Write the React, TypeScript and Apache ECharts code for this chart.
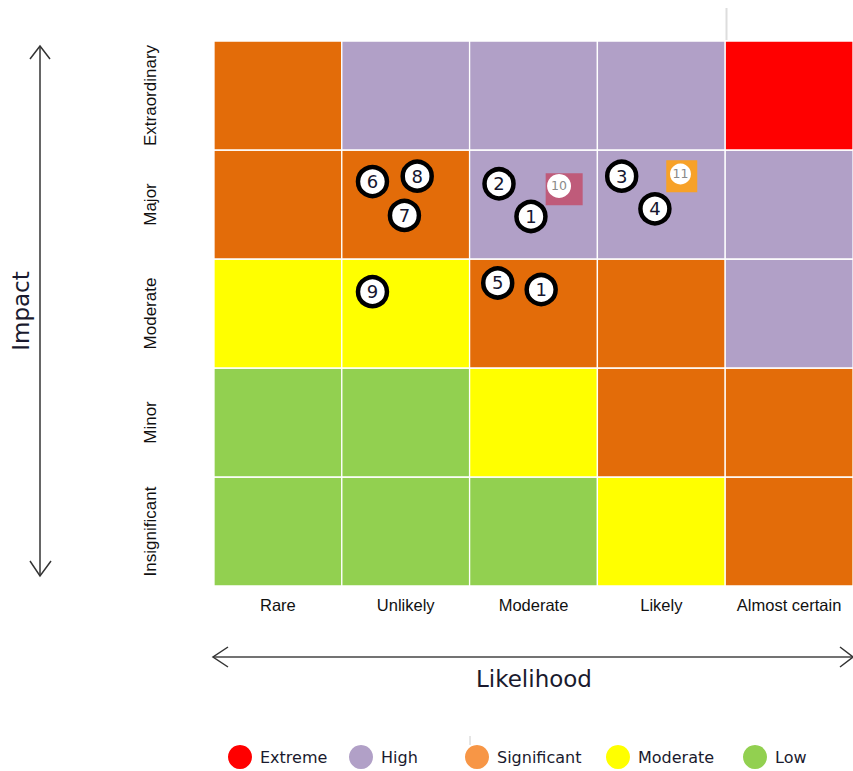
import React, { useEffect, useRef } from 'react';
import * as echarts from 'echarts';

const likelihoodLabels = ['Rare', 'Unlikely', 'Moderate', 'Likely', 'Almost certain'];
const impactLabels = ['Insignificant', 'Minor', 'Moderate', 'Major', 'Extraordinary'];
const ratingNames = ['Extreme', 'High', 'Significant', 'Moderate', 'Low'];
// rows from bottom (Insignificant) to top (Extraordinary); columns Rare..Almost certain
const ratingRows = [
  ['Low', 'Low', 'Low', 'Moderate', 'Significant'],
  ['Low', 'Low', 'Moderate', 'Significant', 'Significant'],
  ['Moderate', 'Moderate', 'Significant', 'Significant', 'High'],
  ['Significant', 'Significant', 'High', 'High', 'High'],
  ['Significant', 'High', 'High', 'High', 'Extreme'],
];
const riskIds = ['6', '8', '7', '2', '1', '3', '4', '9', '5', '1'];
const riskLikelihood = [1.24, 1.59, 1.49, 2.23, 2.48, 3.19, 3.45, 1.24, 2.22, 2.56];
const riskImpact = [3.71, 3.76, 3.4, 3.69, 3.39, 3.76, 3.46, 2.7, 2.78, 2.72];
const flaggedIds = ['10', '11'];
const flaggedLikelihood = [2.74, 3.66];
const flaggedImpact = [3.64, 3.76];
const flaggedDotLikelihood = [2.7, 3.65];
const flaggedDotImpact = [3.67, 3.78];

const cellColors: Record<string, string> = {
  Extreme: '#FF0000',
  High: '#B1A0C7',
  Significant: '#E36C09',
  Moderate: '#FFFF00',
  Low: '#92D050',
};
const legendColors: Record<string, string> = {
  Extreme: '#FF0000',
  High: '#B1A0C7',
  Significant: '#F79646',
  Moderate: '#FFFF00',
  Low: '#92D050',
};
const flaggedColors = ['#BF5B7A', '#F7A128'];
const flaggedSizes = [[37, 32], [31, 32]];
const flaggedDotSizes = [24, 21];
const legendLefts = [228, 349, 465, 606, 743];

const labelFont = "'Liberation Sans', Arial, sans-serif";
const mainFont = "'DejaVu Sans', sans-serif";

export default function App() {
  const ref = useRef<HTMLDivElement>(null);
  useEffect(() => {
    if (!ref.current) return;
    const chart = echarts.init(ref.current, undefined, { renderer: 'svg' });

    const cellData: number[][] = [];
    ratingRows.forEach((row, r) => row.forEach((_, c) => cellData.push([c, r])));

    const option: any = {
      animation: false,
      backgroundColor: '#fff',
      grid: { left: 214, top: 41, width: 640, height: 545, containLabel: false },
      xAxis: [
        { type: 'value', min: 0, max: 5, show: false },
        {
          type: 'category',
          data: likelihoodLabels,
          position: 'bottom',
          axisLine: { show: false },
          axisTick: { show: false },
          splitLine: { show: false },
          axisLabel: { interval: 0, margin: 10, fontSize: 16.5, fontFamily: labelFont, color: '#111' },
        },
      ],
      yAxis: [
        { type: 'value', min: 0, max: 5, show: false },
        {
          type: 'category',
          data: impactLabels,
          position: 'left',
          axisLine: { show: false },
          axisTick: { show: false },
          splitLine: { show: false },
          axisLabel: { interval: 0, rotate: 90, margin: 55, fontSize: 17, fontFamily: labelFont, color: '#111' },
        },
      ],
      legend: ratingNames.map((name, i) => ({
        data: [name],
        left: legendLefts[i],
        top: 745,
        padding: 0,
        icon: 'circle',
        itemWidth: 24,
        itemHeight: 25,
        itemGap: 0,
        itemStyle: { opacity: 1 },
        textStyle: { fontFamily: mainFont, fontSize: 16, color: '#1a1a2e', padding: [0, 0, 0, 3] },
        selectedMode: false,
      })),
      series: [
        {
          type: 'custom',
          name: 'cells',
          xAxisIndex: 0,
          yAxisIndex: 0,
          data: cellData,
          encode: { x: 0, y: 1 },
          z: 1,
          renderItem: (_params: any, api: any) => {
            const c = api.value(0);
            const r = api.value(1);
            const p0 = api.coord([c, r + 1]);
            const p1 = api.coord([c + 1, r]);
            return {
              type: 'rect',
              shape: { x: p0[0], y: p0[1], width: p1[0] - p0[0], height: p1[1] - p0[1] },
              style: { fill: cellColors[ratingRows[r][c]], stroke: '#ffffff', lineWidth: 1.3 },
            };
          },
        },
        ...ratingNames.map((name) => ({
          type: 'scatter',
          name,
          data: [],
          xAxisIndex: 0,
          yAxisIndex: 0,
          itemStyle: { color: legendColors[name], opacity: 1 },
        })),
        {
          type: 'scatter',
          name: 'flagged',
          xAxisIndex: 0,
          yAxisIndex: 0,
          z: 3,
          symbol: 'rect',
          data: flaggedIds.map((id, i) => ({
            value: [flaggedLikelihood[i], flaggedImpact[i], id],
            symbolSize: flaggedSizes[i],
            itemStyle: { color: flaggedColors[i], opacity: 1 },
          })),
        },
        {
          type: 'scatter',
          name: 'flaggedDots',
          xAxisIndex: 0,
          yAxisIndex: 0,
          z: 4,
          symbol: 'circle',
          data: flaggedIds.map((id, i) => ({
            value: [flaggedDotLikelihood[i], flaggedDotImpact[i], id],
            symbolSize: flaggedDotSizes[i],
          })),
          itemStyle: { color: '#ffffff', opacity: 1 },
          label: {
            show: true,
            position: 'inside',
            formatter: (p: any) => p.value[2],
            color: '#8a8a8a',
            fontSize: 12.5,
            fontFamily: mainFont,
          },
        },
        {
          type: 'scatter',
          name: 'risks',
          xAxisIndex: 0,
          yAxisIndex: 0,
          z: 5,
          symbol: 'circle',
          symbolSize: 29,
          data: riskIds.map((id, i) => [riskLikelihood[i], riskImpact[i], id]),
          itemStyle: { color: '#ffffff', borderColor: '#000000', borderWidth: 4.5, opacity: 1 },
          label: {
            show: true,
            position: 'inside',
            formatter: (p: any) => p.value[2],
            color: '#15152e',
            fontSize: 18,
            fontFamily: mainFont,
          },
        },
      ],
      graphic: [
        // Impact arrow
        { type: 'line', shape: { x1: 40, y1: 47, x2: 40, y2: 576 }, style: { stroke: '#333', lineWidth: 1.5 } },
        { type: 'polyline', shape: { points: [[30, 59], [40, 46], [50, 59]] }, style: { stroke: '#333', lineWidth: 1.5, fill: null } },
        { type: 'polyline', shape: { points: [[30, 561], [40, 576], [51, 561]] }, style: { stroke: '#333', lineWidth: 1.5, fill: null } },
        {
          type: 'text',
          x: 21,
          y: 311,
          rotation: Math.PI / 2,
          style: { text: 'Impact', font: `23px ${mainFont}`, fill: '#1a1a2e', align: 'center', verticalAlign: 'middle' },
        },
        // Likelihood arrow
        { type: 'line', shape: { x1: 213, y1: 657, x2: 852, y2: 657 }, style: { stroke: '#444', lineWidth: 1.5 } },
        { type: 'polyline', shape: { points: [[228, 647], [213, 657], [228, 667]] }, style: { stroke: '#333', lineWidth: 1.5, fill: null } },
        { type: 'polyline', shape: { points: [[840, 647], [853, 657], [840, 667]] }, style: { stroke: '#333', lineWidth: 1.5, fill: null } },
        {
          type: 'text',
          x: 534,
          y: 679,
          style: { text: 'Likelihood', font: `23px ${mainFont}`, fill: '#1a1a2e', align: 'center', verticalAlign: 'middle' },
        },
        // faint artifacts of the original image
        { type: 'line', shape: { x1: 726.5, y1: 8, x2: 726.5, y2: 40 }, style: { stroke: '#dddddd', lineWidth: 2 } },
        { type: 'line', shape: { x1: 470, y1: 736, x2: 470, y2: 745 }, style: { stroke: '#cccccc', lineWidth: 1 } },
      ],
    };

    chart.setOption(option);
    return () => chart.dispose();
  }, []);

  return (
    <div
      ref={ref}
      style={{ position: 'absolute', left: 0, top: 0, width: 853, height: 771, background: '#fff' }}
    />
  );
}
